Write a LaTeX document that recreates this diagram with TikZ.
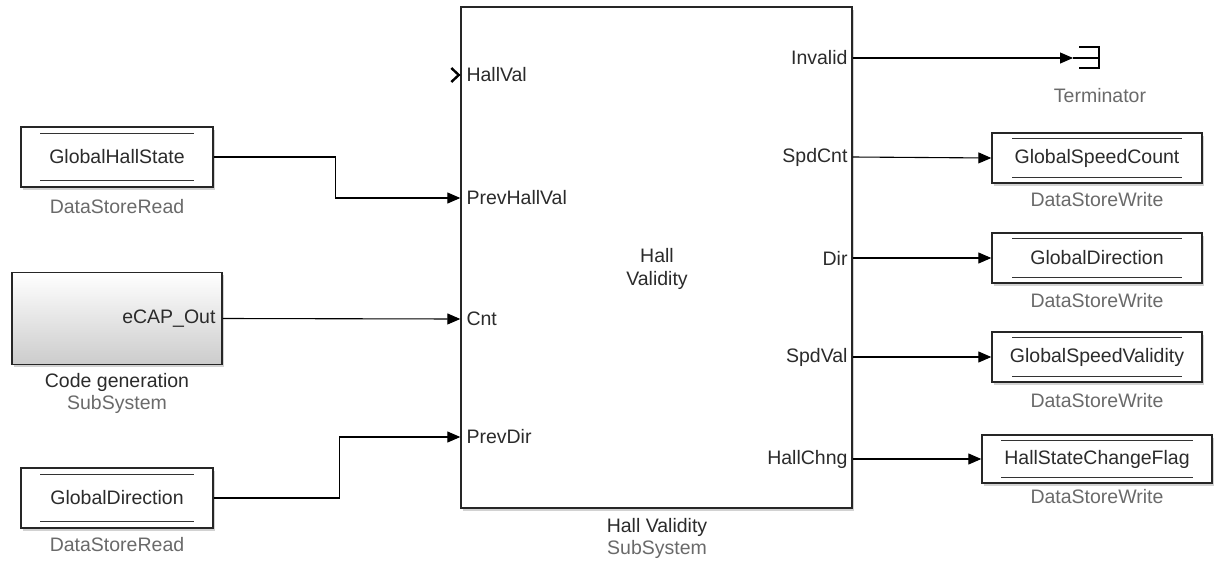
\documentclass[tikz,border=0pt]{standalone}
\usepackage{fontspec}
\setmainfont{Liberation Sans}
\usetikzlibrary{arrows.meta,shadows,calc}
\definecolor{txt}{HTML}{2B2B2B}
\definecolor{sub}{HTML}{6A6A6A}
\tikzset{
  blk/.style={draw=black!85,line width=1.4pt,fill=white,inner sep=0pt,
    drop shadow={opacity=0.35,shadow xshift=2pt,shadow yshift=-2.5pt}},
  store/.style={blk,text=txt,font=\fontsize{19.5}{23}\selectfont},
  lbl/.style={text=txt,font=\fontsize{19.5}{23}\selectfont,inner sep=0pt},
  sublbl/.style={text=sub,font=\fontsize{19.5}{23}\selectfont,inner sep=0pt},
  wire/.style={line width=1.1pt,-{Triangle[length=13pt,width=11pt]}},
  plainwire/.style={line width=1.1pt}
}
\begin{document}
\begin{tikzpicture}[x=1pt,y=-1pt]
\useasboundingbox[fill=white] (0,0) rectangle (1215,565);

% main subsystem
\node[blk,minimum width=391pt,minimum height=501pt] (main) at (656.5,257.5) {};
\node[lbl,align=center] (maintxt) at (657,269) {Hall\\Validity};
\node[lbl] (mainname) at (657,527) {Hall Validity};
\node[sublbl] (maintype) at (657,549) {SubSystem};

% input ports
\coordinate (pin1) at (main.west |- 0,75);
\coordinate (pin2) at (main.west |- 0,198);
\coordinate (pin3) at (main.west |- 0,319);
\coordinate (pin4) at (main.west |- 0,437);
\node[lbl,anchor=west] (l1) at ([xshift=6pt]pin1) {HallVal};
\node[lbl,anchor=west] (l2) at ([xshift=6pt]pin2) {PrevHallVal};
\node[lbl,anchor=west] (l3) at ([xshift=6pt]pin3) {Cnt};
\node[lbl,anchor=west] (l4) at ([xshift=6pt]pin4) {PrevDir};
\draw[line width=2.4pt,line join=miter] ([xshift=-9pt,yshift=7pt]pin1) -- ([xshift=-1.5pt]pin1) -- ([xshift=-9pt,yshift=-7pt]pin1);

% output ports
\coordinate (pout1) at (main.east |- 0,58);
\coordinate (pout2) at (main.east |- 0,157);
\coordinate (pout3) at (main.east |- 0,258);
\coordinate (pout4) at (main.east |- 0,357);
\coordinate (pout5) at (main.east |- 0,459);
\node[lbl,anchor=east] (o1) at ([xshift=-5pt]pout1) {Invalid};
\node[lbl,anchor=east] (o2) at ([xshift=-5pt]pout2) {SpdCnt};
\node[lbl,anchor=east] (o3) at ([xshift=-5pt]pout3) {Dir};
\node[lbl,anchor=east] (o4) at ([xshift=-5pt]pout4) {SpdVal};
\node[lbl,anchor=east] (o5) at ([xshift=-5pt]pout5) {HallChng};

% left blocks
\node[store,minimum width=192pt,minimum height=60pt] (ghs) at (117,157) {GlobalHallState};
\node[sublbl] (ghsl) at (117,207) {DataStoreRead};

\node[blk,top color=white,bottom color=black!20,minimum width=210pt,minimum height=92pt] (cg) at (117,318.5) {};
\node[lbl,anchor=east] (cgport) at ([xshift=-7pt]cg.east) {eCAP\_Out};
\node[lbl] (cgl) at (117,382) {Code generation};
\node[sublbl] (cgt) at (117,404) {SubSystem};

\node[store,minimum width=192pt,minimum height=60pt] (gd) at (117,498) {GlobalDirection};
\node[sublbl] (gdl) at (117,545) {DataStoreRead};

% right blocks
\node[store,minimum width=210pt,minimum height=50pt] (gsc) at (1097,158) {GlobalSpeedCount};
\node[sublbl] (gscl) at (1097,200) {DataStoreWrite};
\node[store,minimum width=210pt,minimum height=50pt] (gdw) at (1097,258) {GlobalDirection};
\node[sublbl] (gdwl) at (1097,301) {DataStoreWrite};
\node[store,minimum width=210pt,minimum height=50pt] (gsv) at (1097,357) {GlobalSpeedValidity};
\node[sublbl] (gsvl) at (1097,401) {DataStoreWrite};
\node[store,minimum width=230pt,minimum height=48pt] (hscf) at (1097,459) {HallStateChangeFlag};
\node[sublbl] (hscfl) at (1097,497) {DataStoreWrite};

% inner double lines of data store blocks
\foreach \n/\dx/\dy in {ghs/20/7,gd/20/7,gsc/21/6,gdw/21/6,gsv/21/6,hscf/20/6}{
  \draw[line width=1.1pt,black!80] ([xshift=\dx pt,yshift=-\dy pt]\n.north west) -- ([xshift=-\dx pt,yshift=-\dy pt]\n.north east);
  \draw[line width=1.1pt,black!80] ([xshift=\dx pt,yshift=\dy pt]\n.south west) -- ([xshift=-\dx pt,yshift=\dy pt]\n.south east);
}

% terminator
\coordinate (term) at (1073,58);
\draw[line width=1.3pt] (1079,47) -- (1099,47) -- (1099,68) -- (1079,68);
\draw[line width=1.3pt] (term) -- (1099,58);
\node[sublbl] (terml) at (1100,96) {Terminator};

% connectors
\draw[wire] (ghs.east) -- ++(122,0) |- (pin2);
\draw[wire] (cgport.east -| cg.east) -- (pin3);
\draw[wire] (gd.east) -- ++(126,0) |- (pin4);
\draw[wire] (pout1) -- (term);
\draw[wire] (pout2) -- (gsc.west);
\draw[wire] (pout3) -- (gdw.west);
\draw[wire] (pout4) -- (gsv.west);
\draw[wire] (pout5) -- (hscf.west);
\end{tikzpicture}
\end{document}
